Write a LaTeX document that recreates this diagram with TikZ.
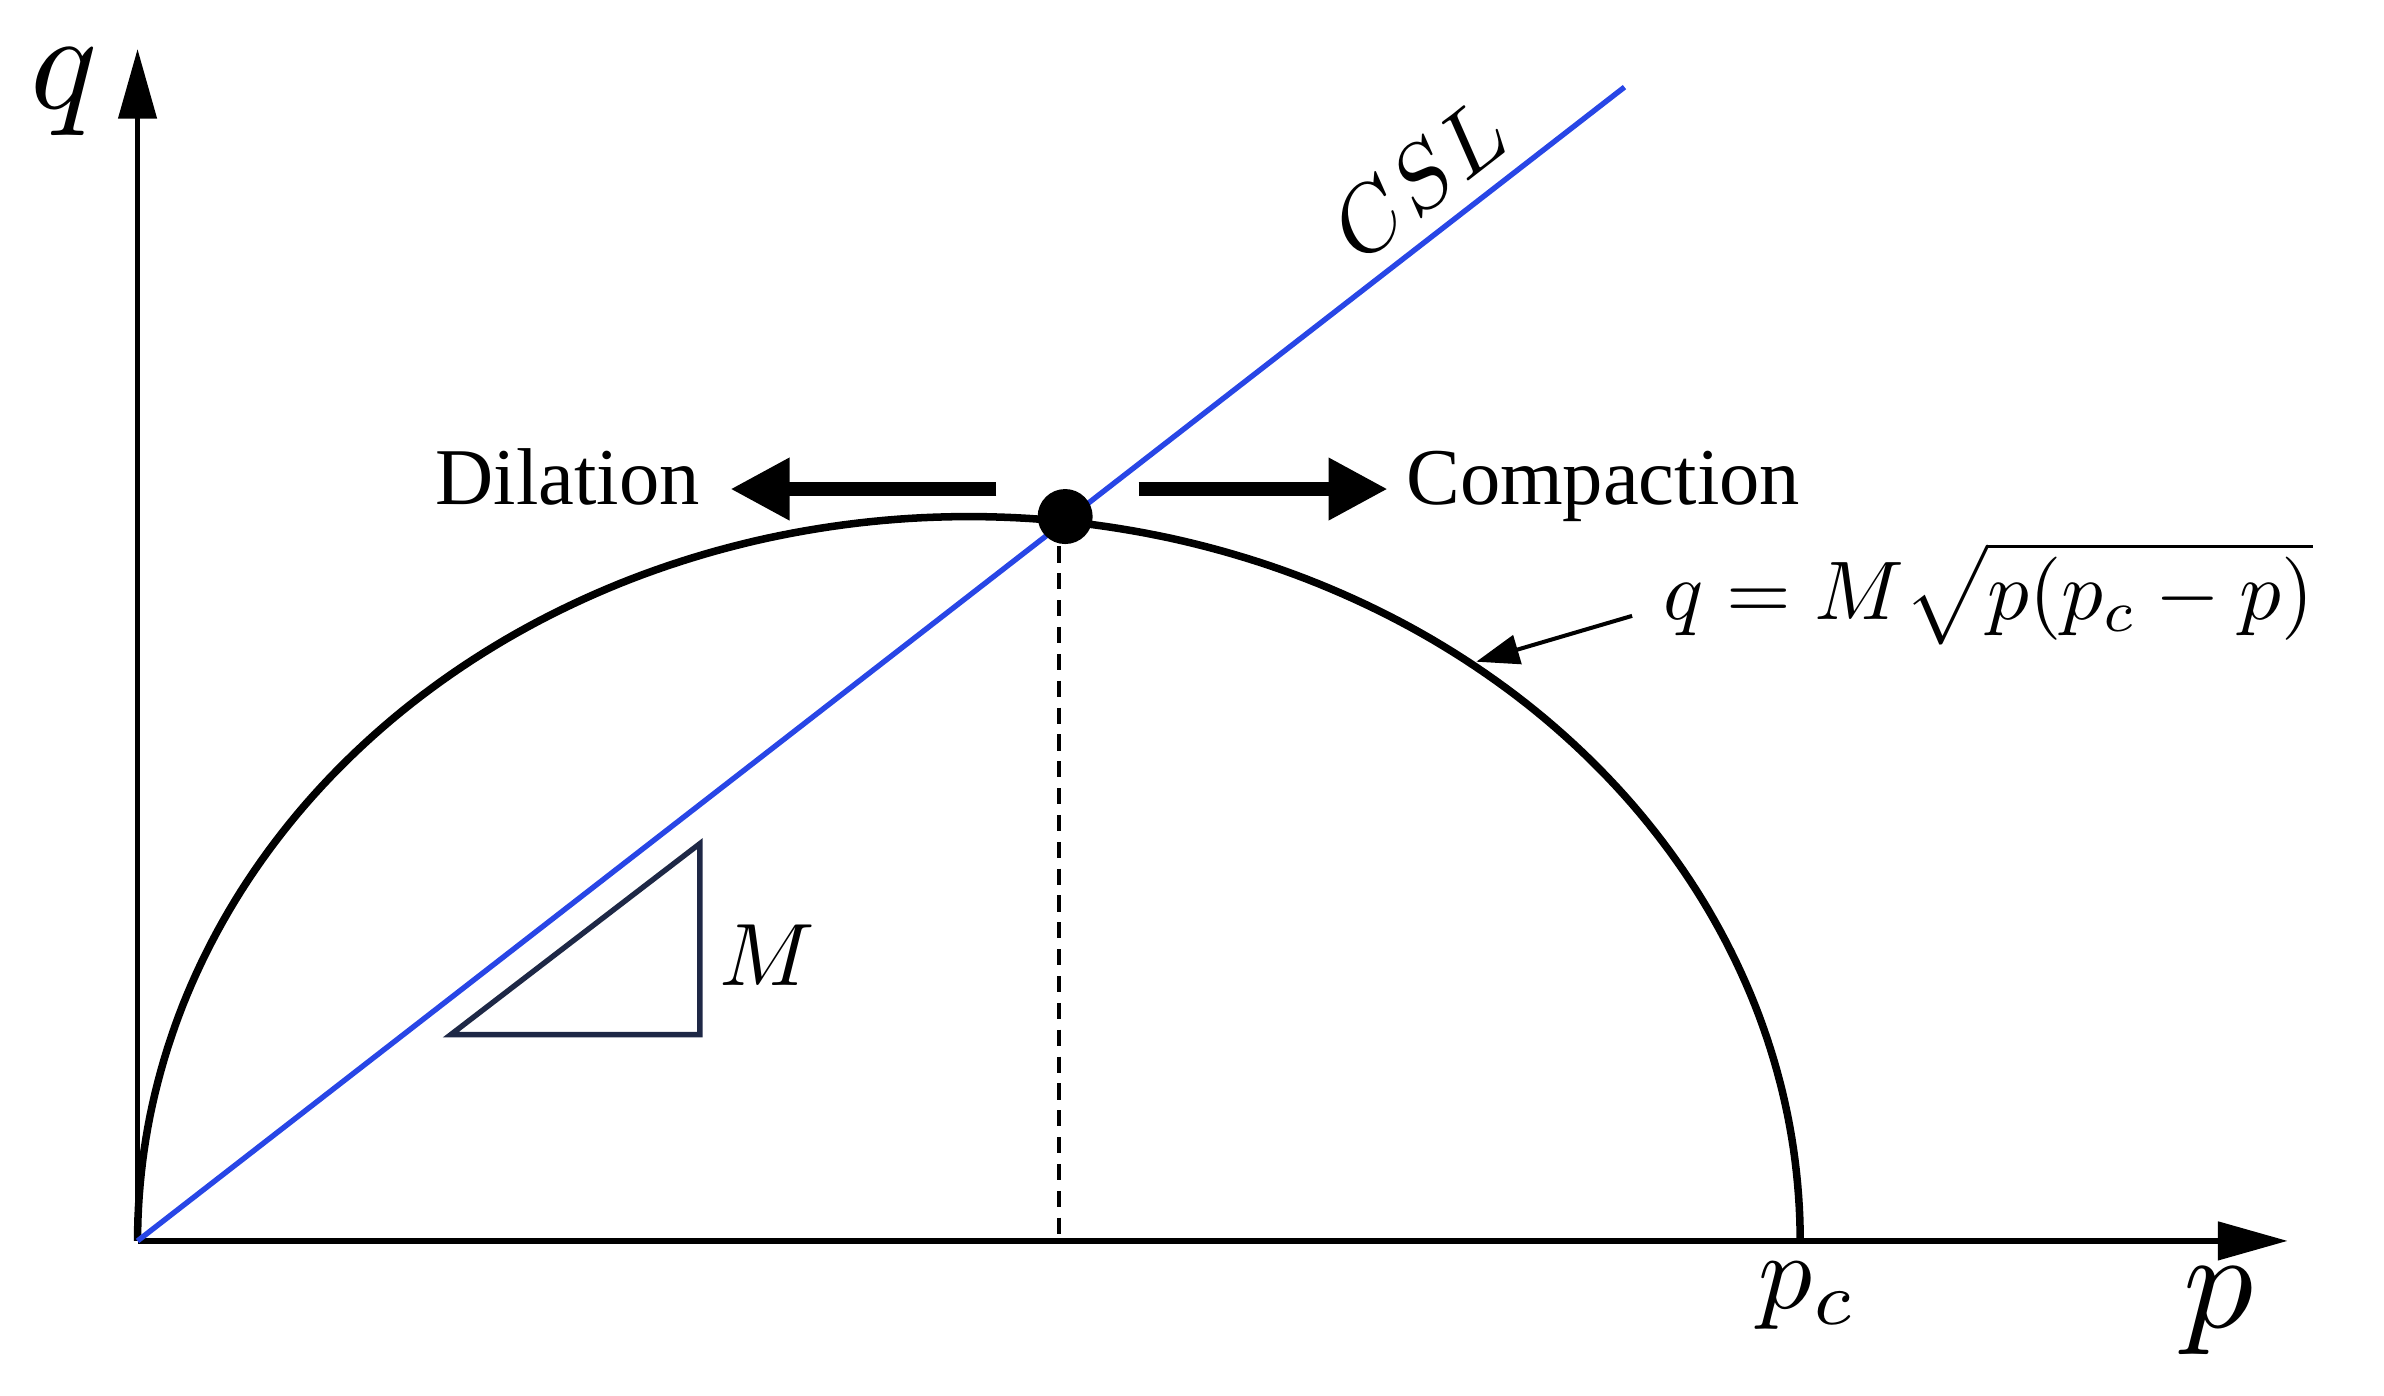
\documentclass[tikz,border=0pt]{standalone}
\usepackage{graphicx}
\usepackage{fontspec}
\setmainfont{Liberation Serif}
\usetikzlibrary{arrows.meta}
\definecolor{cslblue}{RGB}{40,70,230}
\begin{document}
\begin{tikzpicture}[x=0.02cm,y=-0.02cm,
  axis/.style={line width=2.2pt,-{Triangle[length=26pt,width=14pt]}},
  fat/.style={line width=5pt,-{Triangle[length=22pt,width=22pt]}},
  big/.style={font=\fontsize{30}{36}\selectfont}]
\useasboundingbox (0,0) rectangle (1560,913);
\coordinate (O) at (90,812);
\coordinate (Q) at (90,32);
\coordinate (P) at (1497,812);
\draw[axis] (O) -- (Q);
\draw[axis] (O) -- (P);
\draw[line width=2.8pt] plot[domain=180:0,samples=200] ({634+544*cos(\x)},{812-474*sin(\x)});
\draw[cslblue,line width=2pt] (O) -- (1063,57);
\draw[dash pattern=on 6pt off 4pt,line width=1.2pt] (693,340) -- (693,812);
\fill (697,338) circle[radius=18];
\draw[line width=2pt,color={rgb,255:red,30;green,40;blue,70}] (295,677) -- (458,677) -- (458,552) -- cycle;
\node (m) at (502,625) {\scalebox{3.3}{$M$}};
\draw[fat] (652,320) -- (478,320);
\draw[fat] (745,320) -- (908,320);
\node[big,anchor=east] (dil) at (464,312) {Dilation};
\node[big,anchor=west] (comp) at (914,318) {Compaction};
\node[anchor=west,inner sep=0pt] (f) at (1088,388) {\scalebox{3.1}{$q = M\sqrt{p(p_c-p)}$}};
\coordinate (fa) at (1068,403);
\coordinate (fb) at (966,433);
\draw[line width=1.5pt,-{Triangle[length=16pt,width=11pt]}] (fa) -- (fb);
\node[rotate=37.8,inner sep=0pt] (csl) at (928,118) {\scalebox{3.4}{$CSL$}};
\node (ql) at (42,60) {\scalebox{5.2}{$q$}};
\node (pl) at (1452,858) {\scalebox{5.2}{$p$}};
\node (pc) at (1183,848) {\scalebox{4}{$p_c$}};
\end{tikzpicture}
\end{document}
